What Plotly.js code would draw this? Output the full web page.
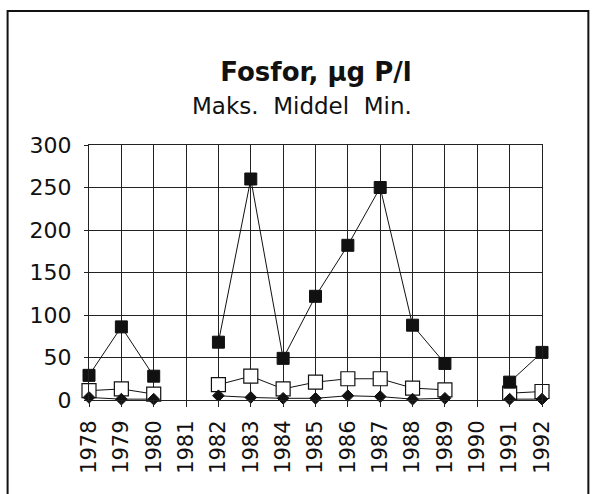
<!DOCTYPE html>
<html>
<head>
<meta charset="utf-8">
<script src="https://cdn.plot.ly/plotly-3.0.1.min.js"></script>
<style>html,body{margin:0;padding:0;background:#fff;}#chart{width:592px;height:494px;}</style>
</head>
<body>
<div id="chart"></div>
<script>
const years = ["1978","1979","1980","1981","1982","1983","1984","1985","1986","1987","1988","1989","1990","1991","1992"];
const maks   = [29, 86, 28, null, 68, 260, 49, 122, 182, 250, 88, 43, null, 21, 56];
const middel = [11, 13, 7, null, 18, 28, 13, 21, 25, 25, 14, 12, null, 8, 10];
const minv   = [3, 1, 1, null, 5, 3, 2, 2, 5, 4, 1, 2, null, 1, 1];
const yTicks = [0, 50, 100, 150, 200, 250, 300];

const FONT = "DejaVu Sans";
const L = 89.3, R = 541.7, T = 145, B = 400, W = 592, H = 494;
const px = x => (x - L) / (R - L);
const py = y => (B - y) / (B - T);

const traces = [
  {x: years, y: middel, name: "Middel", mode: "lines+markers", connectgaps: false, cliponaxis: false,
   line: {color: "#111", width: 1},
   marker: {symbol: "square", size: 14, color: "#fff", line: {color: "#111", width: 1.2}}},
  {x: years, y: minv, name: "Min", mode: "lines+markers", connectgaps: false, cliponaxis: false,
   line: {color: "#111", width: 1},
   marker: {symbol: "diamond", size: 9, color: "#111", line: {color: "#111", width: 1}}},
  {x: years, y: maks, name: "Maks", mode: "lines+markers", connectgaps: false, cliponaxis: false,
   line: {color: "#111", width: 1},
   marker: {symbol: "square", size: 12, color: "#111", line: {color: "#111", width: 1}}}
];

const layout = {
  width: W, height: H,
  margin: {l: L, r: W - R, t: T, b: H - B},
  paper_bgcolor: "#fff", plot_bgcolor: "#fff",
  showlegend: false,
  font: {family: FONT, color: "#111"},
  title: {text: "<b>Fosfor, µg P/l</b>", font: {family: FONT, size: 26, color: "#111"},
          x: 316/W, xanchor: "center", y: 1 - 72/H, yanchor: "middle", yref: "container", xref: "container"},
  xaxis: {type: "category", range: [0, 14], showgrid: true, gridcolor: "#222", gridwidth: 1,
          showline: true, linecolor: "#222", linewidth: 1, mirror: true,
          ticks: "outside", ticklen: 6, tickcolor: "#222", tickangle: -90, ticklabelstandoff: 5,
          tickfont: {family: FONT, size: 21, color: "#111"}, zeroline: false, fixedrange: true},
  yaxis: {range: [0, 300], tickvals: yTicks, showgrid: true, gridcolor: "#222", gridwidth: 1,
          showline: true, linecolor: "#222", linewidth: 1, mirror: true,
          ticks: "outside", ticklen: 4, tickcolor: "#222", ticklabelstandoff: 8,
          tickfont: {family: FONT, size: 22, color: "#111"}, zeroline: false, fixedrange: true},
  annotations: [
    {text: "Maks.&nbsp; Middel&nbsp; Min.", xref: "paper", yref: "paper", x: px(302), y: py(106),
     xanchor: "center", yanchor: "middle", showarrow: false, font: {family: FONT, size: 23, color: "#111"}}
  ],
  shapes: [
    {type: "rect", xref: "paper", yref: "paper", x0: px(8), x1: px(588), y0: py(520), y1: py(11),
     line: {color: "#111", width: 2}, fillcolor: "rgba(0,0,0,0)", layer: "above"}
  ]
};

Plotly.newPlot("chart", traces, layout, {staticPlot: true, displayModeBar: false});
</script>
</body>
</html>
